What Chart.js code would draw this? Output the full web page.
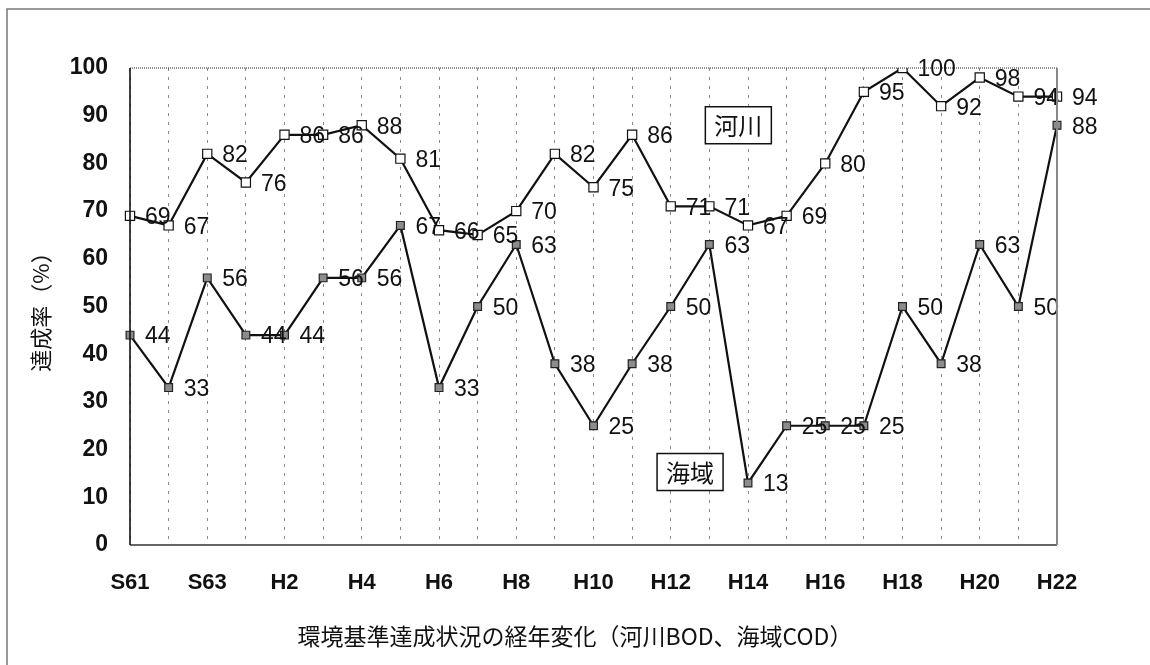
<!DOCTYPE html>
<html lang="ja">
<head>
<meta charset="utf-8">
<title>環境基準達成状況の経年変化</title>
<script src="https://cdn.jsdelivr.net/npm/chart.js@4.4.0/dist/chart.umd.min.js"></script>
<style>
  html, body { margin: 0; padding: 0; background: #fff; }
  #chart { display: block; }
</style>
</head>
<body>
<canvas id="chart" width="1150" height="665"></canvas>
<script>
// 年度 (S61 = 1986 ... H22 = 2010)
const years = ['S61', 'S62', 'S63', 'H1', 'H2', 'H3', 'H4', 'H5', 'H6', 'H7', 'H8', 'H9', 'H10',
  'H11', 'H12', 'H13', 'H14', 'H15', 'H16', 'H17', 'H18', 'H19', 'H20', 'H21', 'H22'];
const shownYears = ['S61', 'S63', 'H2', 'H4', 'H6', 'H8', 'H10', 'H12', 'H14', 'H16', 'H18', 'H20', 'H22'];

// 達成率 (%)
const riverBOD = [69, 67, 82, 76, 86, 86, 88, 81, 66, 65, 70, 82, 75, 86, 71, 71, 67, 69, 80, 95, 100, 92, 98, 94, 94];
const seaCOD = [44, 33, 56, 44, 44, 56, 56, 67, 33, 50, 63, 38, 25, 38, 50, 63, 13, 25, 25, 25, 50, 38, 63, 50, 88];

const yTicks = [0, 10, 20, 30, 40, 50, 60, 70, 80, 90, 100];

const xTitle = '環境基準達成状況の経年変化（河川BOD、海域COD）';
const yTitle = '達成率（%）';

const LATIN = '"Liberation Sans", "Noto Sans CJK JP", sans-serif';
const JP = '"Noto Sans CJK JP", sans-serif';

// outer frame, plot frame and axis titles
const frames = {
  id: 'frames',
  beforeDraw(chart) {
    const ctx = chart.ctx;
    ctx.save();
    ctx.strokeStyle = '#777';
    ctx.lineWidth = 1.5;
    ctx.beginPath();
    ctx.moveTo(7, 665);
    ctx.lineTo(7, 9);
    ctx.lineTo(1150, 9);
    ctx.stroke();
    ctx.restore();
  },
  afterDraw(chart) {
    const { ctx, chartArea: a } = chart;
    ctx.save();
    // top (dotted)
    ctx.strokeStyle = '#222';
    ctx.lineWidth = 1.2;
    ctx.setLineDash([1, 1]);
    ctx.beginPath();
    ctx.moveTo(a.left, a.top);
    ctx.lineTo(a.right, a.top);
    ctx.stroke();
    ctx.setLineDash([]);
    // bottom
    ctx.lineWidth = 1.6;
    ctx.strokeStyle = '#333';
    ctx.beginPath();
    ctx.moveTo(a.left, a.bottom);
    ctx.lineTo(a.right, a.bottom);
    ctx.stroke();
    // left
    ctx.strokeStyle = '#111';
    ctx.beginPath();
    ctx.moveTo(a.left, a.top);
    ctx.lineTo(a.left, a.bottom);
    ctx.stroke();
    // right
    ctx.strokeStyle = '#888';
    ctx.lineWidth = 2;
    ctx.beginPath();
    ctx.moveTo(a.right, a.top);
    ctx.lineTo(a.right, a.bottom);
    ctx.stroke();

    // axis titles
    ctx.fillStyle = '#111';
    ctx.textAlign = 'center';
    ctx.textBaseline = 'middle';
    ctx.font = '23px ' + JP;
    ctx.fillText(xTitle, 575, 636);
    ctx.translate(41, (a.top + a.bottom) / 2);
    ctx.rotate(-Math.PI / 2);
    ctx.font = '22px ' + JP;
    ctx.fillText(yTitle, 0, 0);
    ctx.restore();
  }
};

// value labels to the right of each point
const valueLabels = {
  id: 'valueLabels',
  afterDatasetsDraw(chart) {
    const ctx = chart.ctx;
    ctx.save();
    ctx.font = '23px ' + LATIN;
    ctx.fillStyle = '#111';
    ctx.textAlign = 'left';
    ctx.textBaseline = 'middle';
    chart.data.datasets.forEach((ds, i) => {
      chart.getDatasetMeta(i).data.forEach((pt, j) => {
        ctx.fillText(String(ds.data[j]), pt.x + 15, pt.y + 2);
      });
    });
    ctx.restore();
  }
};

// series name boxes
const seriesBoxes = {
  id: 'seriesBoxes',
  afterDraw(chart) {
    const { ctx, scales: { x, y } } = chart;
    const boxes = [
      { text: '河川', xi: 15.75, yv: 88 },
      { text: '海域', xi: 14.5, yv: 15.3 }
    ];
    ctx.save();
    ctx.font = '24px ' + JP;
    ctx.textAlign = 'center';
    ctx.textBaseline = 'middle';
    boxes.forEach(b => {
      const cx = x.getPixelForValue(b.xi);
      const cy = y.getPixelForValue(b.yv);
      const w = 66, h = 37;
      ctx.fillStyle = '#fff';
      ctx.fillRect(cx - w / 2, cy - h / 2, w, h);
      ctx.strokeStyle = '#111';
      ctx.lineWidth = 1.5;
      ctx.strokeRect(cx - w / 2, cy - h / 2, w, h);
      ctx.fillStyle = '#111';
      ctx.fillText(b.text, cx, cy + 1);
    });
    ctx.restore();
  }
};

new Chart(document.getElementById('chart'), {
  type: 'line',
  data: {
    labels: years,
    datasets: [{
      label: '河川',
      data: riverBOD,
      borderColor: '#111',
      borderWidth: 2.2,
      pointStyle: 'rect',
      pointRadius: 6.5,
      pointBackgroundColor: '#fff',
      pointBorderColor: '#111',
      pointBorderWidth: 1.2,
      tension: 0
    }, {
      label: '海域',
      data: seaCOD,
      borderColor: '#111',
      borderWidth: 2.2,
      pointStyle: 'rect',
      pointRadius: 5.5,
      pointBackgroundColor: '#8c8c8c',
      pointBorderColor: '#222',
      pointBorderWidth: 1.2,
      tension: 0
    }]
  },
  options: {
    responsive: false,
    animation: false,
    devicePixelRatio: 1,
    layout: { padding: { top: 68, right: 93, left: 0, bottom: 0 } },
    plugins: {
      legend: { display: false },
      tooltip: { enabled: false }
    },
    scales: {
      x: {
        offset: false,
        grid: { display: true, drawOnChartArea: true, drawTicks: false, color: '#8a8a8a', lineWidth: 1 },
        border: { display: false, dash: [3, 6] },
        ticks: {
          autoSkip: false,
          maxRotation: 0,
          padding: 25,
          color: '#111',
          font: { family: LATIN, size: 22, weight: 'bold' },
          callback: (v, i) => shownYears.includes(years[i]) ? years[i] : ''
        },
        afterFit: s => { s.height = 120; }
      },
      y: {
        min: 0,
        max: 100,
        afterBuildTicks: s => { s.ticks = yTicks.map(v => ({ value: v })); },
        grid: { display: false, drawTicks: false },
        border: { display: false },
        ticks: {
          padding: 22,
          color: '#111',
          font: { family: LATIN, size: 23, weight: 'bold' }
        },
        afterFit: s => { s.width = 130; }
      }
    }
  },
  plugins: [frames, valueLabels, seriesBoxes]
});
</script>
</body>
</html>
